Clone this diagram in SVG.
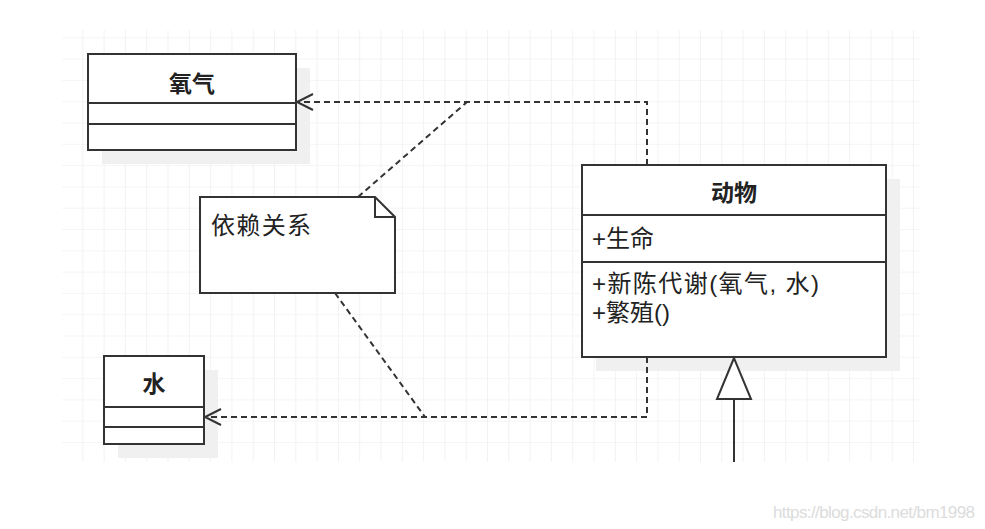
<svg xmlns="http://www.w3.org/2000/svg" width="985" height="529" viewBox="0 0 985 529">
<defs>
<pattern id="grid" x="62" y="17" width="21.3" height="21.3" patternUnits="userSpaceOnUse">
<path d="M21.3 0V21.3M0 21.3H21.3" fill="none" stroke="#ebebeb" stroke-width="1.2"/>
</pattern>
<marker id="open" markerWidth="22" markerHeight="22" refX="19" refY="10" orient="auto" markerUnits="userSpaceOnUse">
<path d="M3 2L19 10L3 18" fill="none" stroke="#333" stroke-width="2"/>
</marker>
</defs>
<style>
.box{fill:#fff;stroke:#333;stroke-width:2}
.shadow{fill:#f0f0f0}
.ln{stroke:#333;stroke-width:2;fill:none}
.dash{stroke:#333;stroke-width:2;fill:none;stroke-dasharray:6 4}
.t{font-family:"Noto Sans CJK SC","Noto Sans",sans-serif;font-size:24px;fill:#222;dominant-baseline:central}
.m{font-family:"Liberation Sans","Noto Sans CJK SC",sans-serif}
.b{font-weight:bold;font-size:23px}
</style>
<rect width="985" height="529" fill="#fff"/>
<rect x="62" y="30" width="858" height="432" fill="url(#grid)"/>
<g id="oxygen">
<rect class="shadow" x="102" y="68" width="208" height="96"/>
<rect class="box" x="88" y="54" width="208" height="96"/>
<path class="ln" d="M88 103H296M88 124H296"/>
<text class="t b" x="192" y="82" text-anchor="middle">氧气</text>
</g>
<g id="water">
<rect class="shadow" x="118" y="370" width="100" height="88"/>
<rect class="box" x="104" y="356" width="100" height="88"/>
<path class="ln" d="M104 407H204M104 427H204"/>
<text class="t b" x="154" y="382" text-anchor="middle">水</text>
</g>
<g id="note">
<path class="box" d="M200 197H375L395 217V293H200Z"/>
<path class="ln" d="M375 197V217H395"/>
<text class="t" x="211" y="223" textLength="100">依赖关系</text>
</g>
<g id="animal">
<rect class="shadow" x="596" y="179" width="304" height="192"/>
<rect class="box" x="582" y="165" width="304" height="192"/>
<path class="ln" d="M582 215H886"/>
<path class="ln" d="M582 262H886" stroke-width="2.6"/>
<text class="t b" x="734" y="191" text-anchor="middle">动物</text>
<text class="t m" x="592" y="238">+生命</text>
<text class="t m" x="592" y="283" textLength="227">+新陈代谢(氧气, 水)</text>
<text class="t m" x="592" y="312">+繁殖()</text>
</g>
<g id="connectors">
<path class="dash" d="M647 165V102H297" marker-end="url(#open)"/>
<path class="dash" d="M358 197L467 102"/>
<path class="dash" d="M647 357V417H205" marker-end="url(#open)"/>
<path class="dash" d="M335 293L425 417"/>
<path class="ln" d="M734 462V399"/>
<path class="box" d="M734 358L717 399H751Z"/>
</g>
<text x="773" y="518" font-family="Liberation Sans, Arial, sans-serif" font-size="17" fill="#dcdcdc" textLength="202">https://blog.csdn.net/bm1998</text>
</svg>
